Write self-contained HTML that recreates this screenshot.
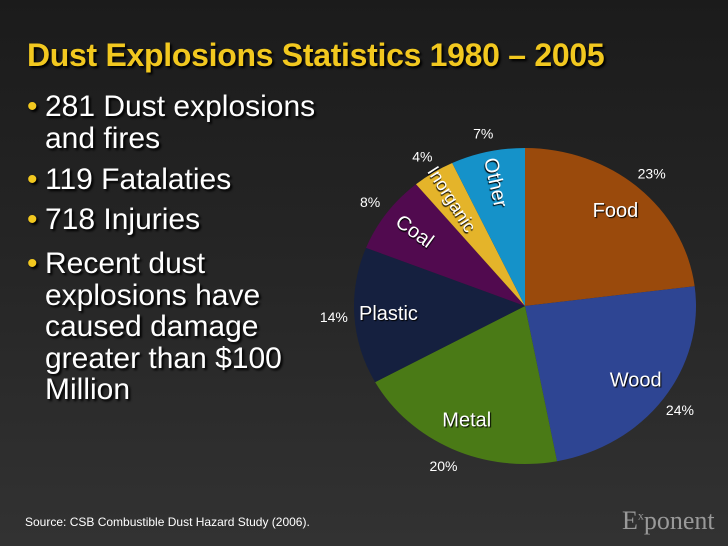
<!DOCTYPE html>
<html><head><meta charset="utf-8"><style>
html,body{margin:0;padding:0;}
body{width:728px;height:546px;overflow:hidden;background:linear-gradient(180deg,#1b1b1b 0%,#262626 50%,#323232 100%);font-family:"Liberation Sans",sans-serif;position:relative;}
.title{position:absolute;left:27px;top:37px;font-size:32px;font-weight:bold;color:#f2c81f;text-shadow:2px 2px 2px #000;white-space:nowrap;letter-spacing:-0.3px;}
.bul{position:absolute;left:27px;color:#fff;font-size:30px;line-height:31.5px;text-shadow:2px 2px 2px #000;}
.bul .dot{position:absolute;left:0;top:0;color:#f2c81f;}
.bul .t{position:absolute;left:18px;white-space:nowrap;}
.src{position:absolute;left:25px;top:515px;font-size:12px;color:#fff;}
.logo{position:absolute;left:622px;top:506px;font-family:"Liberation Serif",serif;font-size:26px;color:#999;}
svg{position:absolute;left:0;top:0;}
</style></head><body>
<div class="title">Dust Explosions Statistics 1980 – 2005</div>
<div class="bul" style="top:91px"><span class="dot">•</span><span class="t">281 Dust explosions<br>and fires</span></div>
<div class="bul" style="top:164px"><span class="dot">•</span><span class="t">119 Fatalaties</span></div>
<div class="bul" style="top:204px"><span class="dot">•</span><span class="t">718 Injuries</span></div>
<div class="bul" style="top:248px"><span class="dot">•</span><span class="t">Recent dust<br>explosions have<br>caused damage<br>greater than $100<br>Million</span></div>
<div class="src">Source: CSB Combustible Dust Hazard Study (2006).</div>
<div class="logo">E<sup style="font-size:12px">x</sup>ponent</div>
<svg id="pie" width="728" height="546"></svg>
<script>
const categories=["Food","Wood","Metal","Plastic","Coal","Inorganic","Other"];
const values=[23,24,20,14,8,4,7];
const colors=["#9a4a0c","#2e4593","#4a7a16","#15203f","#510a4f","#e4b42a","#1592c9"];
const cx=525,cy=306,rx=171,ry=158;
const NS="http://www.w3.org/2000/svg";
const svg=document.getElementById('pie');
const total=values.reduce((a,b)=>a+b,0);
function pt(a,f){return [cx+rx*f*Math.sin(a),cy-ry*f*Math.cos(a)];}
let acc=0;
values.forEach((v,i)=>{
  const a0=acc/total*2*Math.PI;acc+=v;const a1=acc/total*2*Math.PI;
  const p0=pt(a0,1),p1=pt(a1,1);
  const p=document.createElementNS(NS,'path');
  p.setAttribute('d',`M${cx},${cy}L${p0[0]},${p0[1]}A${rx},${ry} 0 ${a1-a0>Math.PI?1:0} 1 ${p1[0]},${p1[1]}Z`);
  p.setAttribute('fill',colors[i]);
  
  
  svg.appendChild(p);
  const m=(a0+a1)/2;
  const q=pt(m,1.12);
  const t=document.createElementNS(NS,'text');
  t.setAttribute('x',q[0]);t.setAttribute('y',q[1]+5);
  t.setAttribute('text-anchor','middle');t.setAttribute('fill','#fff');t.setAttribute('font-size','14');
  t.setAttribute('font-family','Liberation Sans, sans-serif');
  t.textContent=v+'%';
  
  
  svg.appendChild(t);
  const r=pt(m,0.8);
  const l=document.createElementNS(NS,'text');
  l.setAttribute('x',r[0]);l.setAttribute('y',r[1]);
  l.setAttribute('text-anchor','middle');l.setAttribute('dominant-baseline','central');
  l.setAttribute('fill','#fff');l.setAttribute('font-size',v<5?'18':'20');
  l.setAttribute('font-family','Liberation Sans, sans-serif');
  l.setAttribute('style','text-shadow:1px 1px 1px #000');
  if(v<10){l.setAttribute('transform',`rotate(${m*180/Math.PI-270} ${r[0]} ${r[1]})`);}
  l.textContent=categories[i];
  
  
  svg.appendChild(l);
});
</script>
</body></html>
